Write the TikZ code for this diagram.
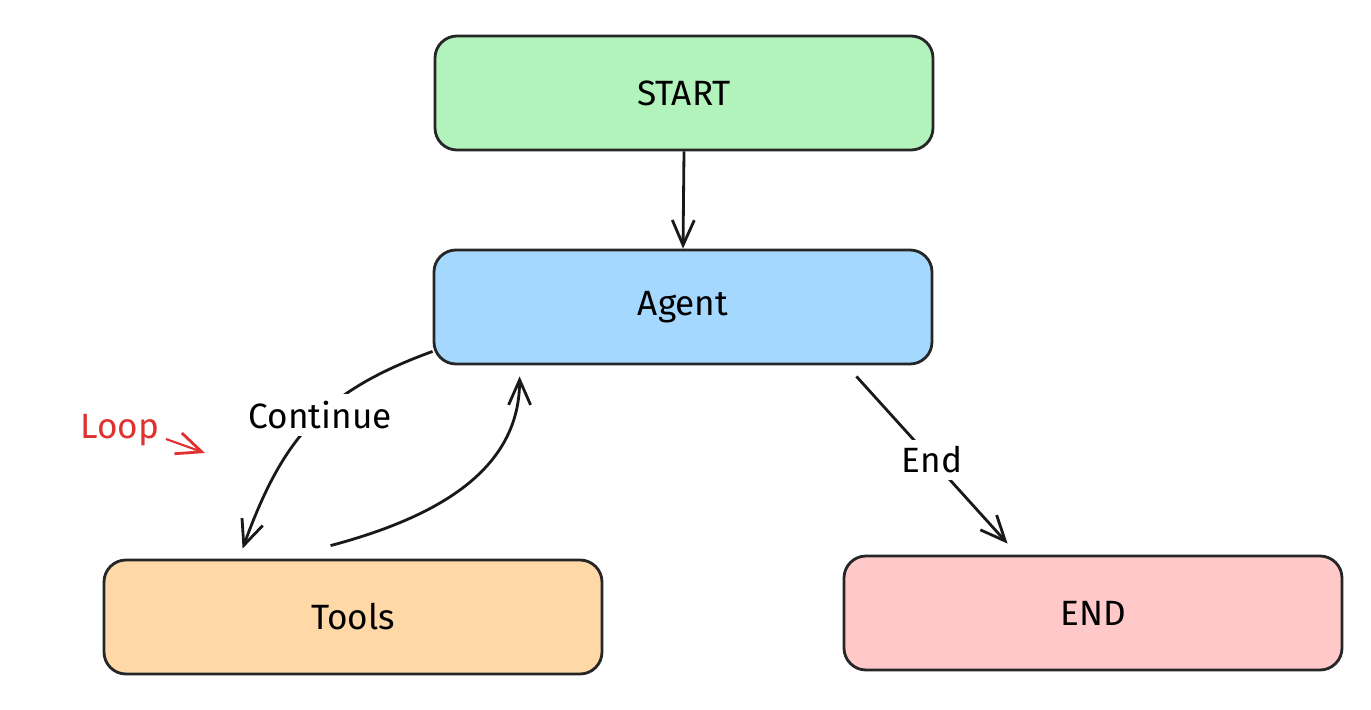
\documentclass[tikz,border=0pt]{standalone}
\usepackage{fontspec}
\setmainfont{Fira Sans}
\usepackage{xcolor}
\usepackage{tikz}
\usetikzlibrary{positioning,calc,arrows.meta}
\definecolor{startgreen}{HTML}{B2F2BB}
\definecolor{agentblue}{HTML}{A5D8FF}
\definecolor{toolsorange}{HTML}{FFD8A8}
\definecolor{endpink}{HTML}{FFC9C9}
\definecolor{loopred}{HTML}{E03131}

\begin{document}
\begin{tikzpicture}[
    stepbox/.style={draw=black!85, line width=0.8pt, rounded corners=0.22cm, minimum width=4.98cm, minimum height=1.14cm},
    flow/.style={draw=black!90, line width=0.8pt, -{Straight Barb[length=2.5mm,width=2.2mm,line width=0.8pt]}},
    lbl/.style={fill=white, inner sep=2pt}
]
    \useasboundingbox (0, 0) rectangle (13.71, 7.09);
    \node [stepbox, fill=startgreen] (start) at (6.84, 6.16) {START};
    \node [stepbox, fill=agentblue] (agent) at (6.83, 4.02) {Agent};
    \node [stepbox, fill=toolsorange] (tools) at (3.53, 0.92) {Tools};
    \node [stepbox, fill=endpink] (finish) at (10.93, 0.96) {END};
    \draw [flow] (start.south) -- (agent.north);
    \draw [flow] ([yshift=0.14cm]agent.south west) to [out=200, in=70, looseness=1.1]
        node [lbl, pos=0.45] {Continue} ([shift={(1.40,0.10)}]tools.north west);
    \draw [flow] ([shift={(2.28,0.13)}]tools.north west) to [out=15, in=-90]
        ([shift={(0.87,-0.11)}]agent.south west);
    \draw [flow] ([shift={(-0.77,-0.11)}]agent.south east) --
        node [lbl] {End} ([shift={(1.65,0.11)}]finish.north west);
    \node [text=loopred] (loop) at (1.20, 2.79) {Loop};
    \coordinate (looptail) at (1.66, 2.70);
    \coordinate (looptip) at (2.05, 2.56);
    \draw [flow, draw=loopred, line width=0.6pt] (looptail) -- (looptip);
\end{tikzpicture}
\end{document}
